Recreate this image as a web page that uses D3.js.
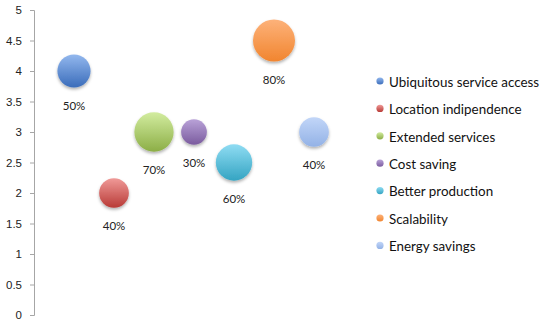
<!DOCTYPE html>
<html>
<head>
<meta charset="utf-8">
<script src="https://cdn.jsdelivr.net/npm/d3@7"></script>
<style>
  body { margin: 0; background: #fff; }
  svg { font-family: Lato, "Open Sans", sans-serif; }
  .axis-y path, .axis-y line { stroke: #a6a6a6; }
  .axis-y text { fill: #222; font-size: 11.5px; }
</style>
</head>
<body>
<svg width="540" height="320"></svg>
<script>
const NAMES = ["Ubiquitous service access", "Location indipendence", "Extended services",
  "Cost saving", "Better production", "Scalability", "Energy savings"];
const XS = [1, 2, 3, 4, 5, 6, 7];
const YS = [4, 2, 3, 3, 2.5, 4.5, 3];
const SIZES = [0.5, 0.4, 0.7, 0.3, 0.6, 0.8, 0.4];
const Y_TICKS = [0, 0.5, 1, 1.5, 2, 2.5, 3, 3.5, 4, 4.5, 5];

const COLORS = [
  ["#93b8ee", "#3a6cba"],
  ["#f09a98", "#b83a36"],
  ["#d2ec9f", "#8cae46"],
  ["#b9a2d8", "#7a5b9e"],
  ["#8fdcf3", "#34a4c2"],
  ["#fdb27a", "#f1852f"],
  ["#c2d6f8", "#93b2e6"]
];

const data = NAMES.map((n, i) => ({name: n, x: XS[i], y: YS[i], size: SIZES[i], c: COLORS[i]}));

const svg = d3.select("svg");
const margin = {left: 34, top: 10, bottom: 5};
const x = d3.scaleLinear().domain([0, 8]).range([margin.left, margin.left + 320]);
const y = d3.scaleLinear().domain([0, 5]).range([315, margin.top]);
const r = d3.scaleSqrt().domain([0, 0.8]).range([0, 21]);

const defs = svg.append("defs");
data.forEach((d, i) => {
  const gr = defs.append("linearGradient").attr("id", "g" + i)
    .attr("x1", 0).attr("y1", 0).attr("x2", 0).attr("y2", 1);
  gr.append("stop").attr("offset", "0%").attr("stop-color", d.c[0]);
  gr.append("stop").attr("offset", "100%").attr("stop-color", d.c[1]);
});
const f = defs.append("filter").attr("id", "shadow")
  .attr("x", "-30%").attr("y", "-30%").attr("width", "160%").attr("height", "170%");
f.append("feDropShadow").attr("dx", 0).attr("dy", 2).attr("stdDeviation", 1.5)
  .attr("flood-color", "#000").attr("flood-opacity", 0.3);

svg.append("g")
  .attr("class", "axis-y")
  .attr("transform", "translate(" + margin.left + ",0)")
  .call(d3.axisLeft(y).tickValues(Y_TICKS).tickSize(4).tickPadding(8).tickSizeOuter(4)
    .tickFormat(d => String(d)));

const g = svg.append("g");
g.selectAll("circle.bubble")
  .data(data)
  .join("circle")
    .attr("class", "bubble")
    .attr("cx", d => x(d.x))
    .attr("cy", d => y(d.y))
    .attr("r", d => r(d.size))
    .attr("fill", (d, i) => "url(#g" + i + ")")
    .attr("filter", "url(#shadow)");

g.selectAll("text.lbl")
  .data(data)
  .join("text")
    .attr("class", "lbl")
    .attr("x", d => x(d.x))
    .attr("y", d => y(d.y) + r(d.size) + 18)
    .attr("dy", "0.35em")
    .attr("text-anchor", "middle")
    .attr("font-size", 11.5)
    .attr("fill", "#222")
    .text(d => Math.round(d.size * 100) + "%");

const legend = svg.append("g").attr("transform", "translate(380,82)");
const row = legend.selectAll("g")
  .data(data)
  .join("g")
    .attr("transform", (d, i) => "translate(0," + (i * 27.4) + ")");
row.append("circle")
  .attr("r", 3.6)
  .attr("cy", -1)
  .attr("fill", (d, i) => "url(#g" + i + ")");
row.append("text")
  .attr("x", 9)
  .attr("dy", "0.35em")
  .attr("font-size", 13.4)
  .attr("fill", "#111")
  .text(d => d.name);
</script>
</body>
</html>
